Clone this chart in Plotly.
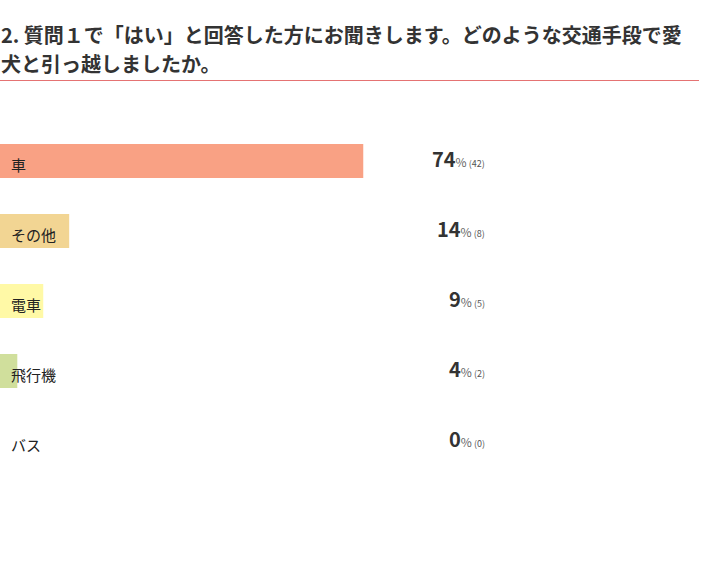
import plotly.graph_objects as go

# アンケート結果
categories = ['車', 'その他', '電車', '飛行機', 'バス']
counts = [42, 8, 5, 2, 0]
percents = [74, 14, 9, 4, 0]
colors = ['#F9A184', '#F2D593', '#FFF9A6', '#D0DF9C', '#D9D9D9']

title_lines = [
    '2. 質問１で「はい」と回答した方にお聞きします。どのような交通手段で愛',
    '犬と引っ越しましたか。',
]

W, H = 710, 571
total = sum(counts)
font_jp = 'Noto Sans CJK JP'

fig = go.Figure(go.Bar(
    x=counts, y=categories, orientation='h',
    marker=dict(color=colors, line=dict(width=0)),
    hoverinfo='skip',
))

annotations = []
for i, cat in enumerate(categories):
    # 項目名（バーの左内側）
    annotations.append(dict(
        x=9 / W, xref='paper', y=cat, yref='y', xanchor='left', yanchor='middle',
        text=cat, showarrow=False, yshift=-3,
        font=dict(size=15, color='#222', family=font_jp),
    ))
    # 割合と件数
    annotations.append(dict(
        x=487 / W, xref='paper', y=cat, yref='y', xanchor='right', yanchor='middle',
        text=(f'<b>{percents[i]}</b>'
              f'<span style="font-size:12px;color:#666">%</span>'
              f'<span style="font-size:9px;color:#555"> ({counts[i]})</span>'),
        showarrow=False, yshift=3,
        font=dict(size=20, color='#333', family=font_jp),
    ))

# タイトル
for j, line in enumerate(title_lines):
    annotations.append(dict(
        x=0, xref='paper', y=1, yref='paper', xanchor='left', yanchor='top',
        text=f'<b>{line}</b>', showarrow=False, xshift=-1,
        yshift=126 - 18 - 29 * j,
        font=dict(size=20, color='#333', family=font_jp),
    ))

fig.update_layout(
    width=W, height=H,
    margin=dict(l=0, r=0, t=126, b=95),
    plot_bgcolor='white', paper_bgcolor='white',
    bargap=1 - 34 / 70,
    showlegend=False,
    annotations=annotations,
    shapes=[dict(type='line', xref='paper', yref='paper',
                 x0=0, x1=699 / W, y0=1 + (126 - 80.5) / 350, y1=1 + (126 - 80.5) / 350,
                 line=dict(color='#E57373', width=1))],
)
fig.update_xaxes(domain=[0, 493 / W], range=[0, total], visible=False, fixedrange=True)
fig.update_yaxes(autorange='reversed', visible=False, fixedrange=True)

# ページの余白をなくして図を左上に合わせる
fig.write_html('out.html', config={'displayModeBar': False},
               post_script="document.body.style.margin='0';")
